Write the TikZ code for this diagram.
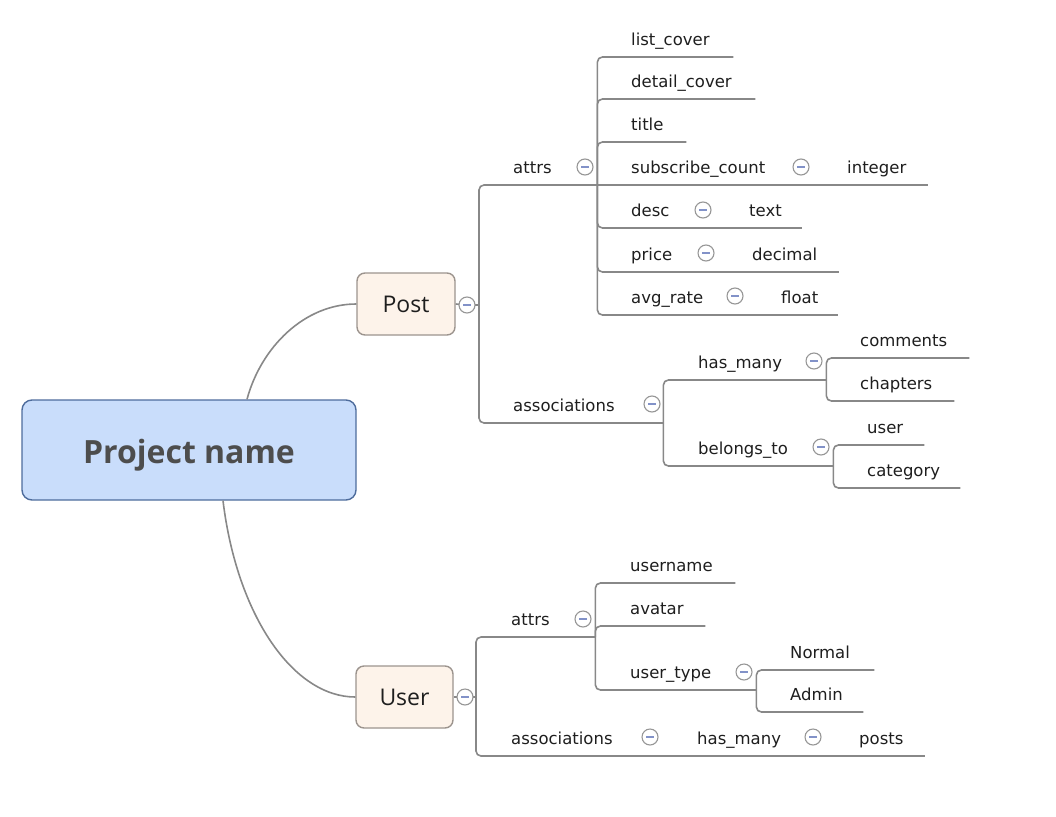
\documentclass[tikz,border=0pt]{standalone}
\usepackage{fontspec}
\setmainfont{DejaVu Sans}
\newfontfamily\opensans{Open Sans}
\usetikzlibrary{calc}
\definecolor{rootfill}{RGB}{201,221,251}
\definecolor{rootline}{RGB}{78,108,156}
\definecolor{roottext}{RGB}{77,77,77}
\definecolor{mainfill}{RGB}{253,243,234}
\definecolor{mainline}{RGB}{156,148,142}
\definecolor{linegray}{RGB}{136,136,136}
\definecolor{foldgray}{RGB}{150,150,150}
\definecolor{foldblue}{RGB}{130,146,200}
\definecolor{leafblack}{RGB}{30,30,30}

\tikzset{
  root/.style={draw=rootline, line width=1.4pt, fill=rootfill, rounded corners=10pt,
    minimum width=334pt, minimum height=100pt, text=roottext, text height=26pt, text depth=0pt,
    font=\opensans\bfseries\fontsize{32}{38}\selectfont},
  mainbox/.style={draw=mainline, line width=1.4pt, fill=mainfill, rounded corners=8pt,
    minimum width=98pt, minimum height=62pt, text=leafblack,
    font=\opensans\fontsize{23}{28}\selectfont},
  topic/.style={anchor=south west, text width=#1pt, align=left, inner xsep=0pt,
    inner ysep=11pt, text depth=0pt, text=leafblack,
    font=\fontsize{16.5}{20}\selectfont},
  fold/.style={circle, draw=foldgray, line width=1.1pt, fill=white, minimum size=16pt,
    inner sep=0pt, path picture={\draw[foldblue, line width=1.5pt]
      ([xshift=-4pt]path picture bounding box.center) -- ([xshift=4pt]path picture bounding box.center);}},
  branch/.style={draw=linegray, line width=1.6pt, rounded corners=5pt},
}

\begin{document}
\begin{tikzpicture}[x=1pt,y=1pt,yscale=-1]
\useasboundingbox (0,0) rectangle (1056,816);

%Central topic
\node[root] (root) at (189,450) {Project name};
%Main topics
\node[mainbox] (post) at (406,304) {Post};
\node[mainbox, minimum width=97pt] (user) at (404.5,697) {User};

\draw[branch] ($(root.north)+(58,0)$) .. controls +(14,-52) and +(-52,0) .. (post.west);
\draw[branch] ($(root.south)+(34,0)$) .. controls +(14,115) and +(-62,0) .. (user.west);

% Post subtopics
\node[topic=84] (pattrs) at (513,185) {attrs};
\node[topic=150] (passoc) at (513,423) {associations};
\node[topic=102] (listcover) at (631,57) {list\_cover};
\node[topic=124] (detailcover) at (631,99) {detail\_cover};
\node[topic=55] (title) at (631,142) {title};
\node[topic=182] (subcount) at (631,185) {subscribe\_count};
\node[topic=81] (integer) at (847,185) {integer};
\node[topic=84] (desc) at (631,228) {desc};
\node[topic=53] (desctype) at (749,228) {text};
\node[topic=87] (price) at (631,272) {price};
\node[topic=87] (pricetype) at (752,272) {decimal};
\node[topic=116] (avgrate) at (631,315) {avg\_rate};
\node[topic=57] (avgtype) at (781,315) {float};
\node[topic=128] (hasmany) at (698,380) {has\_many};
\node[topic=135] (belongsto) at (698,466) {belongs\_to};
\node[topic=109] (comments) at (860,358) {comments};
\node[topic=94] (chapters) at (860,401) {chapters};
\node[topic=57] (buser) at (867,445) {user};
\node[topic=93] (category) at (867,488) {category};

% User subtopics
\node[topic=84] (uattrs) at (511,637) {attrs};
\node[topic=151] (uassoc) at (511,756) {associations};
\node[topic=128] (uhasmany) at (697,756) {has\_many};
\node[topic=66] (posts) at (859,756) {posts};
\node[topic=105] (username) at (630,583) {username};
\node[topic=75] (avatar) at (630,626) {avatar};
\node[topic=126] (usertype) at (630,690) {user\_type};
\node[topic=84] (normal) at (790,670) {Normal};
\node[topic=73] (admin) at (790,712) {Admin};

% Junctions
\coordinate (pj) at (479,305);
\coordinate (uj) at (476,697);

% Post branches
\draw[branch] (post.east) -- (467,305) -- (pj);
\draw[branch] (pj) |- (pattrs.south east);
\draw[branch] (pj) |- (passoc.south east);
\foreach \n in {listcover,detailcover,title,desc,price,avgrate}
  \draw[branch] (pattrs.south east) |- (\n.south east);
\draw[branch] (pattrs.south east) -- (subcount.south east);
\draw[branch] (subcount.south east) -- (integer.south east);
\draw[branch] (desc.south east) -- (desctype.south east);
\draw[branch] (price.south east) -- (pricetype.south east);
\draw[branch] (avgrate.south east) -- (avgtype.south east);
\draw[branch] (passoc.south east) |- (hasmany.south east);
\draw[branch] (passoc.south east) |- (belongsto.south east);
\draw[branch] (hasmany.south east) |- (comments.south east);
\draw[branch] (hasmany.south east) |- (chapters.south east);
\draw[branch] (belongsto.south east) |- (buser.south east);
\draw[branch] (belongsto.south east) |- (category.south east);

% User branches
\draw[branch] (user.east) -- (465,697) -- (uj);
\draw[branch] (uj) |- (uattrs.south east);
\draw[branch] (uj) |- (uassoc.south east);
\draw[branch] (uassoc.south east) -- (uhasmany.south east);
\draw[branch] (uhasmany.south east) -- (posts.south east);
\foreach \n in {username,avatar,usertype}
  \draw[branch] (uattrs.south east) |- (\n.south east);
\draw[branch] (usertype.south east) |- (normal.south east);
\draw[branch] (usertype.south east) |- (admin.south east);

% Fold buttons
\foreach \p/\q/\name in {467/305/postf,585/167/pattrsf,652/404/passocf,801/167/subcountf,
    703/210/descf,706/253/pricef,735/296/avgratef,814/361/hasmanyf,821/447/belongstof,
    465/697/userf,583/619/uattrsf,650/737/uassocf,813/737/uhasmanyf,744/672/usertypef}
  \node[fold] (\name) at (\p,\q) {};

\end{tikzpicture}
\end{document}
